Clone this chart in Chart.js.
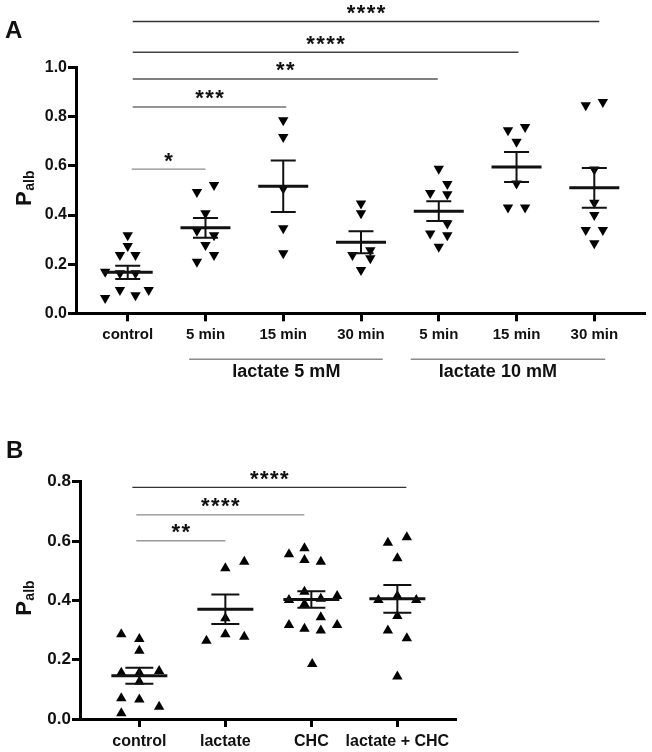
<!DOCTYPE html>
<html>
<head>
<meta charset="utf-8">
<script src="https://cdn.jsdelivr.net/npm/chart.js@4.4.0/dist/chart.umd.min.js"></script>
<style>
    html, body { margin: 0; padding: 0; background: #fff; }
    #wrap { position: relative; width: 652px; height: 752px; }
    canvas { position: absolute; left: 0; }
    #chartA { top: 0; }
    #chartB { top: 390px; }
</style>
</head>
<body>
<div id="wrap">
    <canvas id="chartA" width="652" height="390"></canvas>
    <canvas id="chartB" width="652" height="362"></canvas>
</div>
<script>
// ---- Panel A data ----
const categoriesA = ['control', '5 min', '15 min', '30 min', '5 min', '15 min', '30 min'];
const valuesA = [
    [0.318, 0.274, 0.237, 0.237, 0.169, 0.163, 0.163, 0.095, 0.074, 0.095, 0.062],
    [0.522, 0.494, 0.407, 0.336, 0.318, 0.278, 0.237, 0.210],
    [0.786, 0.718, 0.508, 0.346, 0.244],
    [0.447, 0.407, 0.257, 0.237, 0.224, 0.176],
    [0.589, 0.526, 0.490, 0.485, 0.366, 0.325, 0.318, 0.271],
    [0.745, 0.759, 0.698, 0.528, 0.431, 0.431],
    [0.847, 0.860, 0.585, 0.450, 0.400, 0.339, 0.339, 0.285]
];
// horizontal spread of the dots, in category units
const jitterA = [
    [0, 0, -0.1, 0.1, -0.29, -0.1, 0.1, -0.1, 0.1, 0.27, -0.29],
    [0.11, -0.11, 0, -0.11, 0.11, 0, 0.11, -0.11],
    [0, 0, 0, 0, 0],
    [0, 0, 0.12, -0.11, 0.12, 0],
    [0, 0.11, -0.11, 0.11, 0.11, -0.11, 0.11, 0],
    [-0.11, 0.11, 0, 0, -0.11, 0.11],
    [-0.11, 0.11, 0, 0, 0, -0.11, 0.11, 0]
];
const meansA = [0.167, 0.348, 0.517, 0.289, 0.416, 0.596, 0.511];
const semsA = [0.027, 0.040, 0.105, 0.045, 0.040, 0.061, 0.081];
const sigToA = [1, 2, 4, 5, 6];
const sigYA = [0.587, 0.840, 0.954, 1.063, 1.188];
const sigLabelA = ['*', '***', '**', '****', '****'];
const groupLabelsA = ['lactate 5 mM', 'lactate 10 mM'];

// ---- Panel B data ----
const categoriesB = ['control', 'lactate', 'CHC', 'lactate + CHC'];
const valuesB = [
    [0.286, 0.270, 0.230, 0.156, 0.156, 0.162, 0.126, 0.070, 0.066, 0.041, 0.019],
    [0.508, 0.530, 0.340, 0.264, 0.286, 0.277],
    [0.555, 0.576, 0.536, 0.530, 0.401, 0.429, 0.388, 0.405, 0.415, 0.343, 0.317, 0.304, 0.298, 0.317, 0.185],
    [0.594, 0.613, 0.542, 0.401, 0.415, 0.401, 0.347, 0.298, 0.272, 0.143]
];
const jitterB = [
    [-0.21, 0, 0, -0.21, 0, 0.23, 0, -0.21, 0, 0.23, -0.21],
    [0, 0.22, 0, -0.22, 0, 0.22],
    [-0.26, -0.08, -0.08, 0.11, -0.26, -0.08, -0.08, 0.11, 0.3, 0.11, -0.26, -0.08, 0.11, 0.3, 0.01],
    [-0.11, 0.11, 0, -0.22, 0, 0.22, 0, -0.11, 0.11, 0]
];
const meansB = [0.146, 0.370, 0.403, 0.405];
const semsB = [0.027, 0.050, 0.028, 0.047];
const sigToB = [1, 2, 3];
const sigYB = [0.601, 0.688, 0.781];
const sigLabelB = ['**', '****', '****'];

const FONT = '"Liberation Sans", Arial, Helvetica, sans-serif';

function toPoints(values, jitter) {
    const pts = [];
    values.forEach((group, i) => {
        group.forEach((v, k) => pts.push({ x: i + jitter[i][k], y: v }));
    });
    return pts;
}

function drawStars(ctx, label, cx, cy) {
    ctx.font = 'bold 22px ' + FONT;
    ctx.textAlign = 'center';
    ctx.textBaseline = 'alphabetic';
    const step = 10;
    const start = cx - (label.length - 1) * step / 2;
    for (let k = 0; k < label.length; k++) {
        ctx.fillText('*', start + k * step, cy + 12.5);
    }
}

const dotPlotPlugin = {
    id: 'dotPlot',
    afterDatasetsDraw(chart, args, opts) {
        const ctx = chart.ctx;
        const xs = chart.scales.x;
        const ys = chart.scales.y;
        ctx.save();
        ctx.strokeStyle = '#111';
        ctx.lineCap = 'butt';
        opts.means.forEach((m, i) => {
            const x = xs.getPixelForValue(i);
            const ym = ys.getPixelForValue(m);
            const yt = ys.getPixelForValue(m + opts.sems[i]);
            const yb = ys.getPixelForValue(m - opts.sems[i]);
            ctx.lineWidth = 2;
            ctx.beginPath();
            ctx.moveTo(x, yt); ctx.lineTo(x, yb);
            ctx.moveTo(x - opts.capHalf, yt); ctx.lineTo(x + opts.capHalf, yt);
            ctx.moveTo(x - opts.capHalf, yb); ctx.lineTo(x + opts.capHalf, yb);
            ctx.stroke();
            ctx.lineWidth = 3;
            ctx.beginPath();
            ctx.moveTo(x - opts.meanHalf, ym); ctx.lineTo(x + opts.meanHalf, ym);
            ctx.stroke();
        });

        // significance brackets
        opts.sigTo.forEach((to, i) => {
            const x1 = xs.getPixelForValue(0) + opts.sigStart[i];
            const x2 = xs.getPixelForValue(to) + opts.sigEnd[i];
            const y = ys.getPixelForValue(opts.sigY[i]);
            ctx.strokeStyle = opts.sigColors[i];
            ctx.lineWidth = 1.4;
            ctx.beginPath();
            ctx.moveTo(x1, y); ctx.lineTo(x2, y);
            ctx.stroke();
            ctx.fillStyle = '#111';
            drawStars(ctx, opts.sigLabel[i], (x1 + x2) / 2, y - 14);
        });
        ctx.restore();
    },
    afterDraw(chart, args, opts) {
        const ctx = chart.ctx;
        const area = chart.chartArea;
        const xs = chart.scales.x;
        ctx.save();
        ctx.fillStyle = '#111';

        // panel letter
        ctx.font = 'bold 24px ' + FONT;
        ctx.textAlign = 'left';
        ctx.textBaseline = 'alphabetic';
        ctx.fillText(opts.letter, opts.letterX, opts.letterY);

        // y title P_alb
        ctx.translate(31, (area.top + area.bottom) / 2 - 2);
        ctx.rotate(-Math.PI / 2);
        ctx.font = 'bold 22px ' + FONT;
        const wP = ctx.measureText('P').width;
        ctx.font = 'bold 14px ' + FONT;
        const wS = ctx.measureText('alb').width;
        const x0 = -(wP + wS) / 2;
        ctx.font = 'bold 22px ' + FONT;
        ctx.fillText('P', x0, 0);
        ctx.font = 'bold 14px ' + FONT;
        ctx.fillText('alb', x0 + wP + 0.5, 3);
        ctx.setTransform(1, 0, 0, 1, 0, 0);

        // grouping brackets under the x axis
        (opts.groups || []).forEach(g => {
            const y = area.bottom + 46;
            ctx.strokeStyle = '#8a8a8a';
            ctx.lineWidth = 1.4;
            ctx.beginPath();
            ctx.moveTo(xs.getPixelForValue(g.from), y);
            ctx.lineTo(xs.getPixelForValue(g.to), y);
            ctx.stroke();
            ctx.font = 'bold 18px ' + FONT;
            ctx.textAlign = 'center';
            ctx.textBaseline = 'middle';
            ctx.fillText(g.label, xs.getPixelForValue(g.at), y + 13);
        });
        ctx.restore();
    }
};

function makeChart(id, cfg) {
    return new Chart(document.getElementById(id), {
        type: 'scatter',
        data: {
            datasets: [{
                data: toPoints(cfg.values, cfg.jitter),
                pointStyle: 'triangle',
                rotation: cfg.rotation,
                pointRadius: 6,
                pointHoverRadius: 6,
                backgroundColor: '#000',
                borderColor: '#000',
                borderWidth: 0
            }]
        },
        options: {
            responsive: false,
            devicePixelRatio: 1,
            animation: false,
            events: [],
            layout: { padding: cfg.padding },
            scales: {
                x: {
                    type: 'linear',
                    min: cfg.xMin,
                    max: cfg.xMax,
                    afterBuildTicks: s => { s.ticks = cfg.categories.map((c, i) => ({ value: i })); },
                    afterFit: s => { s.height = cfg.xHeight; },
                    ticks: {
                        autoSkip: false,
                        maxRotation: 0,
                        padding: 5,
                        color: '#111',
                        font: { family: FONT, weight: 'bold', size: cfg.xFont },
                        callback: v => cfg.categories[v]
                    },
                    grid: { drawOnChartArea: false, drawTicks: true, tickLength: 8, tickWidth: 3, tickColor: '#000' },
                    border: { display: true, width: 3, color: '#000' }
                },
                y: {
                    min: 0,
                    max: cfg.yMax,
                    afterFit: s => { s.width = cfg.yWidth; },
                    ticks: {
                        stepSize: 0.2,
                        padding: 1,
                        color: '#111',
                        font: { family: FONT, weight: 'bold', size: cfg.yFont },
                        callback: v => v.toFixed(1)
                    },
                    grid: { drawOnChartArea: false, drawTicks: true, tickLength: 8, tickWidth: 3, tickColor: '#000' },
                    border: { display: true, width: 3, color: '#000' }
                }
            },
            plugins: {
                legend: { display: false },
                tooltip: { enabled: false },
                dotPlot: cfg.plot
            }
        },
        plugins: [dotPlotPlugin]
    });
}

makeChart('chartA', {
    categories: categoriesA,
    values: valuesA,
    jitter: jitterA,
    rotation: 180,
    xMin: -0.665,
    xMax: 6.652,
    yMax: 1.0,
    xHeight: 76.7,
    yWidth: 76,
    xFont: 15,
    yFont: 16,
    padding: { top: 67.7, right: 7, left: 0, bottom: 0 },
    plot: {
        means: meansA,
        sems: semsA,
        meanHalf: 25,
        capHalf: 12.5,
        sigTo: sigToA,
        sigY: sigYA,
        sigLabel: sigLabelA,
        sigStart: [4, 5, 5, 5, 5],
        sigEnd: [0, 3, -1, 2, 5],
        sigColors: ['#8c8c8c', '#707070', '#555', '#444', '#333'],
        letter: 'A',
        letterX: 5,
        letterY: 38,
        groups: [
            { label: groupLabelsA[0], from: 0.79, to: 3.28, at: 2.04 },
            { label: groupLabelsA[1], from: 3.64, to: 6.14, at: 4.76 }
        ]
    }
});

makeChart('chartB', {
    categories: categoriesB,
    values: valuesB,
    jitter: jitterB,
    rotation: 0,
    xMin: -0.69,
    xMax: 3.69,
    yMax: 0.8,
    xHeight: 33,
    yWidth: 80,
    xFont: 16,
    yFont: 17,
    padding: { top: 91.7, right: 195.3, left: 0, bottom: 0 },
    plot: {
        means: meansB,
        sems: semsB,
        meanHalf: 28,
        capHalf: 14,
        sigTo: sigToB,
        sigY: sigYB,
        sigLabel: sigLabelB,
        sigStart: [-3, -3, -7],
        sigEnd: [0, -7, 9],
        sigColors: ['#9a9a9a', '#8a8a8a', '#333'],
        letter: 'B',
        letterX: 6,
        letterY: 68
    }
});
</script>
</body>
</html>
